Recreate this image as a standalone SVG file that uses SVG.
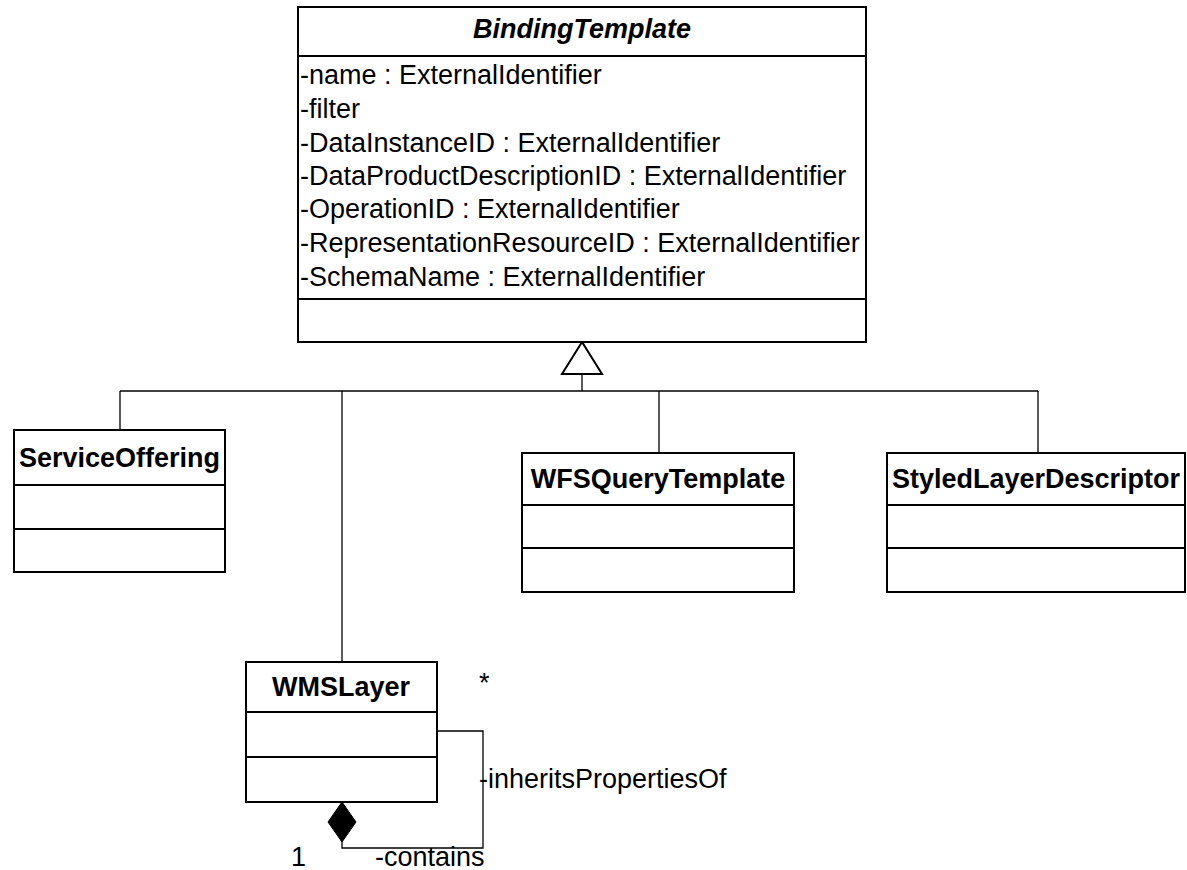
<svg xmlns="http://www.w3.org/2000/svg" width="1187" height="870" viewBox="0 0 1187 870">
<style>
.box{fill:#fff;stroke:#000;stroke-width:2}
.div{stroke:#000;stroke-width:2}
.conn{fill:none;stroke:#000;stroke-width:1.3}
.t{font-family:"Liberation Sans",Arial,sans-serif;font-size:27px;fill:#000}
.cn{font-family:"Liberation Sans",Arial,sans-serif;font-size:27px;font-weight:bold;fill:#000}
</style>
<rect width="1187" height="870" fill="#fff"/>
<g id="connectors">
<polyline class="conn" points="582,374 582,391"/>
<line class="conn" x1="120" y1="391" x2="1038" y2="391"/>
<line class="conn" x1="120" y1="391" x2="120" y2="430"/>
<line class="conn" x1="342" y1="391" x2="342" y2="662"/>
<line class="conn" x1="659" y1="391" x2="659" y2="453"/>
<line class="conn" x1="1038" y1="391" x2="1038" y2="453"/>
<polygon points="582,342 562,374 602,374" fill="#fff" stroke="#000" stroke-width="2"/>
<polyline class="conn" points="437,731 483,731 483,848 342,848 342,842"/>
<polygon points="342,802 328,822 342,842 356,822" fill="#000" stroke="#000" stroke-width="1"/>
<text class="t" x="479" y="692">*</text>
<text class="t" x="479" y="788">-inheritsPropertiesOf</text>
<text class="t" x="375" y="866">-contains</text>
<text class="t" x="291" y="866">1</text>
</g>
<g id="BindingTemplate">
<rect class="box" x="298" y="7" width="568" height="335"/>
<line class="div" x1="298" y1="56" x2="866" y2="56"/>
<line class="div" x1="298" y1="299" x2="866" y2="299"/>
<text class="cn" x="582" y="38" text-anchor="middle" font-style="italic">BindingTemplate</text>
<text class="t" x="300" y="84">-name : ExternalIdentifier</text>
<text class="t" x="300" y="118">-filter</text>
<text class="t" x="300" y="152">-DataInstanceID : ExternalIdentifier</text>
<text class="t" x="300" y="185">-DataProductDescriptionID : ExternalIdentifier</text>
<text class="t" x="300" y="218">-OperationID : ExternalIdentifier</text>
<text class="t" x="300" y="252">-RepresentationResourceID : ExternalIdentifier</text>
<text class="t" x="300" y="286">-SchemaName : ExternalIdentifier</text>
</g>
<g id="ServiceOffering">
<rect class="box" x="14" y="430" width="211" height="142"/>
<line class="div" x1="14" y1="485" x2="225" y2="485"/>
<line class="div" x1="14" y1="529" x2="225" y2="529"/>
<text class="cn" x="119.5" y="467" text-anchor="middle">ServiceOffering</text>
</g>
<g id="WFSQueryTemplate">
<rect class="box" x="522" y="453" width="272" height="139"/>
<line class="div" x1="522" y1="505" x2="794" y2="505"/>
<line class="div" x1="522" y1="548" x2="794" y2="548"/>
<text class="cn" x="658" y="488" text-anchor="middle">WFSQueryTemplate</text>
</g>
<g id="StyledLayerDescriptor">
<rect class="box" x="887" y="453" width="298" height="139"/>
<line class="div" x1="887" y1="505" x2="1185" y2="505"/>
<line class="div" x1="887" y1="548" x2="1185" y2="548"/>
<text class="cn" x="1036" y="488" text-anchor="middle">StyledLayerDescriptor</text>
</g>
<g id="WMSLayer">
<rect class="box" x="246" y="662" width="191" height="140"/>
<line class="div" x1="246" y1="712" x2="437" y2="712"/>
<line class="div" x1="246" y1="757" x2="437" y2="757"/>
<text class="cn" x="341" y="696" text-anchor="middle">WMSLayer</text>
</g>
</svg>
